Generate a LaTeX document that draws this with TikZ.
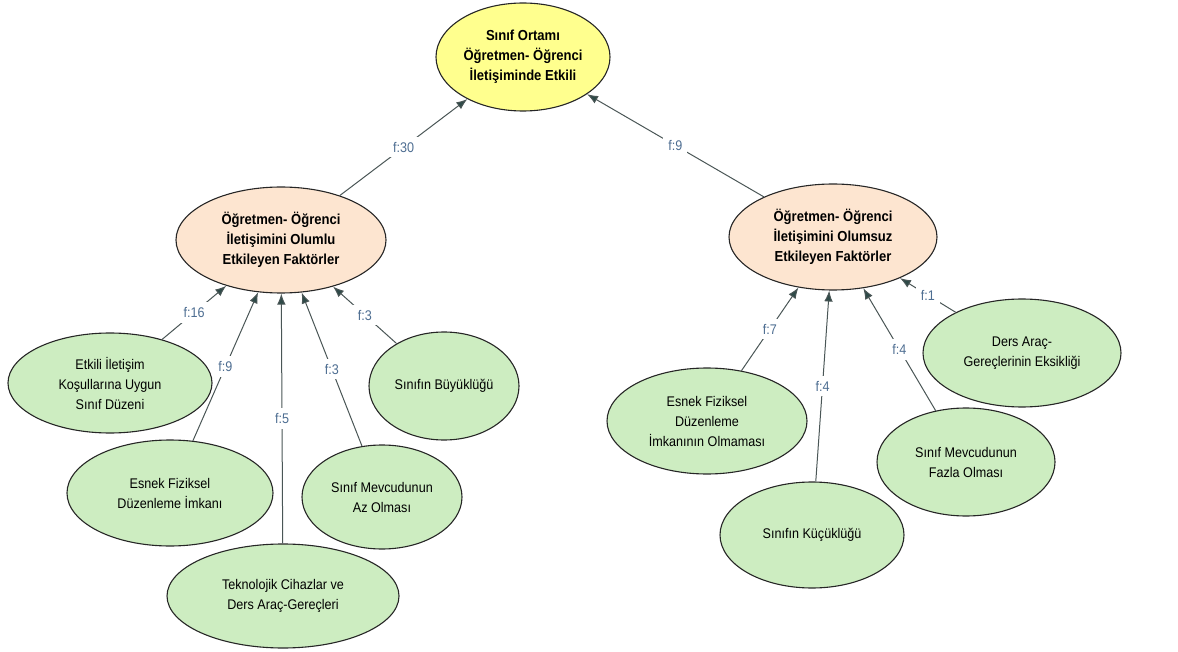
\documentclass[tikz,border=0pt]{standalone}
\usepackage{fontspec}
\setmainfont{Liberation Sans}[FakeStretch=0.9]
\usepackage{tikz}
\usetikzlibrary{arrows.meta,shapes.geometric}
\definecolor{rootfill}{HTML}{FFFF8E}
\definecolor{factfill}{HTML}{FDE5D0}
\definecolor{leaffill}{HTML}{CDEDC1}
\definecolor{edgegray}{HTML}{4A5656}
\definecolor{tipteal}{HTML}{2E4A48}
\definecolor{labblue}{HTML}{4E6E92}
\tikzset{
	ovalnode/.style = {ellipse, draw=black!85, line width=1.1pt, align=center,
		inner sep=0pt, font=\fontsize{14}{20}\selectfont},
	rootn/.style = {ovalnode, fill=rootfill, font=\fontsize{14.5}{20}\selectfont\bfseries},
	factn/.style = {ovalnode, fill=factfill, font=\fontsize{14.5}{20}\selectfont\bfseries},
	leafn/.style = {ovalnode, fill=leaffill},
	freq/.style = {midway, fill=white, inner sep=5pt, text=labblue,
		font=\fontsize{14}{14}\selectfont}
}

\begin{document}
\begin{tikzpicture}[x=1pt,y=-1pt,
	link/.style={-{Latex[length=11pt,width=8.5pt,fill=tipteal]}, draw=edgegray, line width=1pt}]
\useasboundingbox (0,0) rectangle (1178,652);
% top
\node [rootn, minimum width=174pt, minimum height=108pt] (sinif) at (523,57)
	{S\i n\i f Ortam\i \\ Öğretmen- Öğrenci\\ İletişiminde Etkili};
% factor groups
\node [factn, minimum width=210pt, minimum height=106pt] (olumlu) at (281,240)
	{Öğretmen- Öğrenci\\ İletişimini Olumlu\\ Etkileyen Faktörler};
\node [factn, minimum width=208pt, minimum height=106pt] (olumsuz) at (833,237)
	{Öğretmen- Öğrenci\\ İletişimini Olumsuz\\ Etkileyen Faktörler};
% positive leaves
\node [leafn, minimum width=204pt, minimum height=100pt] (duzen) at (110,383)
	{Etkili İletişim\\ Koşullar\i na Uygun\\ S\i n\i f Düzeni};
\node [leafn, minimum width=206pt, minimum height=106pt] (esnek) at (170,493)
	{Esnek Fiziksel\\ Düzenleme İmkan\i};
\node [leafn, minimum width=232pt, minimum height=104pt] (teknoloji) at (283,596)
	{Teknolojik Cihazlar ve\\ Ders Araç-Gereçleri};
\node [leafn, minimum width=160pt, minimum height=104pt] (azolma) at (382,497)
	{S\i n\i f Mevcudunun\\ Az Olmas\i};
\node [leafn, minimum width=150pt, minimum height=108pt] (buyuk) at (444,386)
	{S\i n\i f\i n Büyüklüğü};
% negative leaves
\node [leafn, minimum width=200pt, minimum height=106pt] (esnekyok) at (707,421)
	{Esnek Fiziksel\\ Düzenleme\\ İmkan\i n\i n Olmamas\i};
\node [leafn, minimum width=184pt, minimum height=106pt] (kucuk) at (812,535)
	{S\i n\i f\i n Küçüklüğü};
\node [leafn, minimum width=178pt, minimum height=108pt] (fazla) at (966,462)
	{S\i n\i f Mevcudunun\\ Fazla Olmas\i};
\node [leafn, minimum width=198pt, minimum height=108pt] (eksik) at (1022,353)
	{Ders Araç-\\ Gereçlerinin Eksikliği};
% connectors
\draw [link] (olumlu) -- node[freq] {f:30} (sinif);
\draw [link] (olumsuz) -- node[freq] {f:9} (sinif);
\draw [link] (duzen) -- node[freq] {f:16} (olumlu);
\draw [link] (esnek) -- node[freq] {f:9} (olumlu);
\draw [link] (teknoloji) -- node[freq] {f:5} (olumlu);
\draw [link] (azolma) -- node[freq] {f:3} (olumlu);
\draw [link] (buyuk) -- node[freq] {f:3} (olumlu);
\draw [link] (esnekyok) -- node[freq] {f:7} (olumsuz);
\draw [link] (kucuk) -- node[freq] {f:4} (olumsuz);
\draw [link] (fazla) -- node[freq] {f:4} (olumsuz);
\draw [link] (eksik) -- node[freq] {f:1} (olumsuz);
\end{tikzpicture}
\end{document}
